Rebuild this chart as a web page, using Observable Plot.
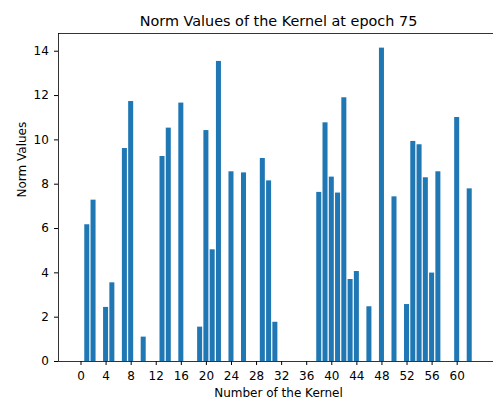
<!DOCTYPE html>
<html><head><meta charset="utf-8">
<script src="https://cdn.jsdelivr.net/npm/d3@7"></script>
<script src="https://cdn.jsdelivr.net/npm/@observablehq/plot@0.6"></script>
<style>body{margin:0;background:#fff} svg{display:block}</style>
</head><body><div id="chart"></div>
<script>
const titleText = "Norm Values of the Kernel at epoch 75";
const xLabel = "Number of the Kernel";
const yLabel = "Norm Values";
const kernels = [1,2,4,5,7,8,10,13,14,16,19,20,21,22,24,26,29,30,31,38,39,40,41,42,43,44,46,48,50,52,53,54,55,56,57,60,62];
const normValues = [6.17,7.28,2.44,3.55,9.61,11.73,1.10,9.25,10.53,11.66,1.55,10.42,5.04,13.54,8.56,8.51,9.16,8.15,1.77,7.63,10.77,8.32,7.60,11.90,3.70,4.06,2.47,14.14,7.43,2.57,9.93,9.78,8.29,3.99,8.56,11.01,7.79];
const xTicks = [0,4,8,12,16,20,24,28,32,36,40,44,48,52,56,60];
const yTicks = [0,2,4,6,8,10,12,14];

const data = kernels.map((k, i) => ({k, v: normValues[i]}));
const xDomain = [-3.59, 66.59];
const yDomain = [0, 14.8];

const chart = Plot.plot({
  width: 493, height: 399,
  marginLeft: 58, marginRight: 0, marginTop: 33, marginBottom: 38,
  style: {fontFamily: "DejaVu Sans", fontSize: "12px", color: "#000", background: "#fff"},
  x: {domain: xDomain, range: [58, 498]},
  y: {domain: yDomain},
  marks: [
    Plot.rectY(data, {x1: d => d.k - 0.4, x2: d => d.k + 0.4, y: "v", fill: "#1f77b4", inset: 0}),
    Plot.ruleX([xDomain[0]], {stroke: "#000", strokeWidth: 0.8}),
    Plot.ruleY([yDomain[0]], {stroke: "#000", strokeWidth: 0.8}),
    Plot.ruleY([yDomain[1]], {stroke: "#000", strokeWidth: 0.8}),
    Plot.axisX(xTicks, {tickSize: 4, tickPadding: 5.7, label: null, fontSize: 12}),
    Plot.axisY(yTicks, {tickSize: 4, tickPadding: 5.7, label: null, fontSize: 12}),
    Plot.text([xLabel], {frameAnchor: "bottom", lineAnchor: "middle", dy: 31.9, dx: 2.5, fontSize: 12, fill: "#000"}),
    Plot.text([yLabel], {frameAnchor: "left", lineAnchor: "middle", rotate: -90, dx: -36.8, fontSize: 12, fill: "#000"}),
    Plot.text([titleText], {frameAnchor: "top", lineAnchor: "middle", dy: -12.3, dx: 2.5, fontSize: 14.4, fill: "#000"})
  ]
});
document.getElementById("chart").appendChild(chart);
</script>
</body></html>
